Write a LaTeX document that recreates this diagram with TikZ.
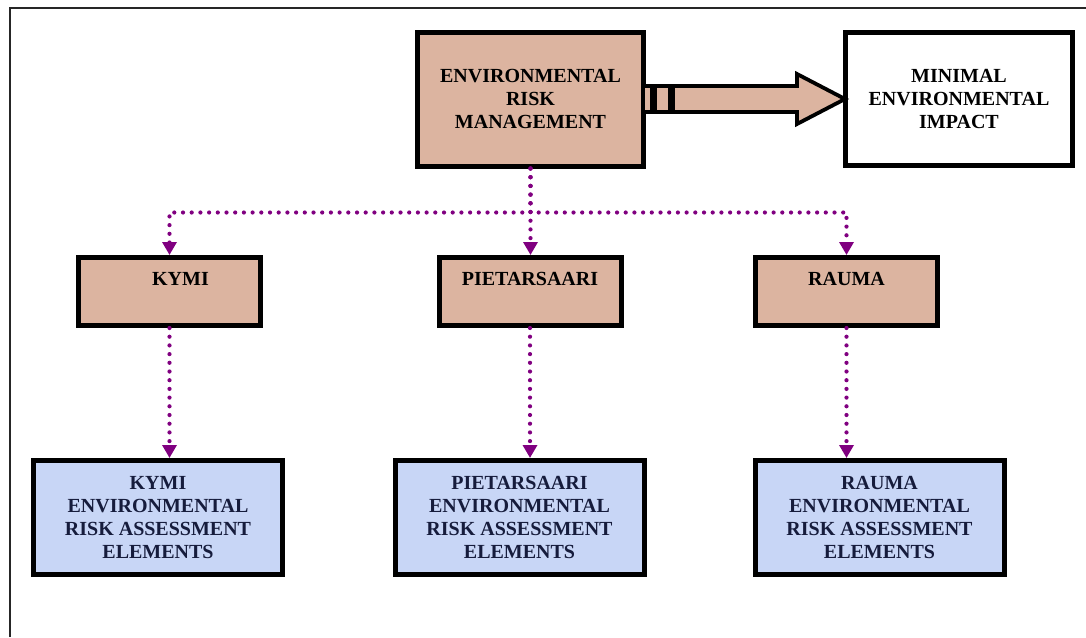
\documentclass[tikz,border=0pt]{standalone}
\usepackage{fontspec}
\setmainfont{Liberation Serif}
\usetikzlibrary{arrows.meta, positioning, calc}

\definecolor{brickfill}{RGB}{220,180,160}
\definecolor{bluefill}{RGB}{200,214,246}
\definecolor{dotpurple}{RGB}{128,0,128}
\definecolor{navytext}{RGB}{22,28,60}

\begin{document}
\begin{tikzpicture}[x=0.5pt, y=-0.5pt,
    mainbox/.style={rectangle, draw=black, line width=2.5pt, fill=brickfill, text centered, align=center, inner sep=0pt, font=\bfseries\fontsize{10}{11.5}\selectfont},
    goalbox/.style={mainbox, fill=white, minimum width=113.5pt, minimum height=66.5pt},
    millbox/.style={mainbox, minimum width=91pt, minimum height=34pt, text height=7pt, text depth=13pt},
    elembox/.style={mainbox, fill=bluefill, text=navytext, minimum width=124.5pt, minimum height=57pt, font=\bfseries\fontsize{10}{11.6}\selectfont},
    dotarrow/.style={dotpurple, line width=2.1pt, line cap=round, dash pattern=on 0pt off 4.35pt, -{Triangle[width=7pt, length=6.5pt]}},
    bigarrow/.style={draw=black, line width=1.9pt, fill=brickfill, line join=miter}
]
    \useasboundingbox (0,0) rectangle (1086,637);

    % Frame
    \draw[line width=1.1pt, black!85] (10,637) -- (10,8) -- (1086,8);

    % Top level
    \node[mainbox, minimum width=113pt, minimum height=67pt] (erm) at (530.5,99) {ENVIRONMENTAL\\RISK\\MANAGEMENT};
    \node[goalbox] (impact) at (959,99) {MINIMAL\\ENVIRONMENTAL\\IMPACT};

    % Mills
    \node[millbox] (kymi) at (169.5,291.5) {\hspace*{11pt}KYMI};
    \node[millbox] (pietarsaari) at (530,291.5) {PIETARSAARI};
    \node[millbox] (rauma) at (846.5,291.5) {RAUMA};

    % Assessment elements
    \node[elembox] (kymielem) at (158,517.5) {KYMI\\ENVIRONMENTAL\\RISK ASSESSMENT\\ELEMENTS};
    \node[elembox] (pietelem) at (519.5,517.5) {PIETARSAARI\\ENVIRONMENTAL\\RISK ASSESSMENT\\ELEMENTS};
    \node[elembox] (raumaelem) at (879.5,517.5) {RAUMA\\ENVIRONMENTAL\\RISK ASSESSMENT\\ELEMENTS};

    % Block arrow
    \draw[bigarrow] ($(erm.east)+(-3,-13)$) rectangle ($(erm.east)+(6,13)$);
    \draw[bigarrow] ($(erm.east)+(9,-13)$) rectangle ($(erm.east)+(24,13)$);
    \draw[bigarrow] ($(erm.east)+(27,-13)$) -- ($(impact.west)+(-46,-13)$) -- ($(impact.west)+(-46,-25)$)
        -- ($(impact.west)+(2,0)$) -- ($(impact.west)+(-46,25)$) -- ($(impact.west)+(-46,13)$)
        -- ($(erm.east)+(27,13)$) -- cycle;

    % Dotted links
    \draw[dotarrow] (erm.south) -- ++(0,44) -| (kymi.north);
    \draw[dotarrow] (erm.south) -- (erm.south |- pietarsaari.north);
    \draw[dotarrow] (erm.south) -- ++(0,44) -| (rauma.north);

    \draw[dotarrow] (kymi.south) -- (kymi.south |- kymielem.north);
    \draw[dotarrow] (pietarsaari.south) -- (pietarsaari.south |- pietelem.north);
    \draw[dotarrow] (rauma.south) -- (rauma.south |- raumaelem.north);

\end{tikzpicture}
\end{document}
